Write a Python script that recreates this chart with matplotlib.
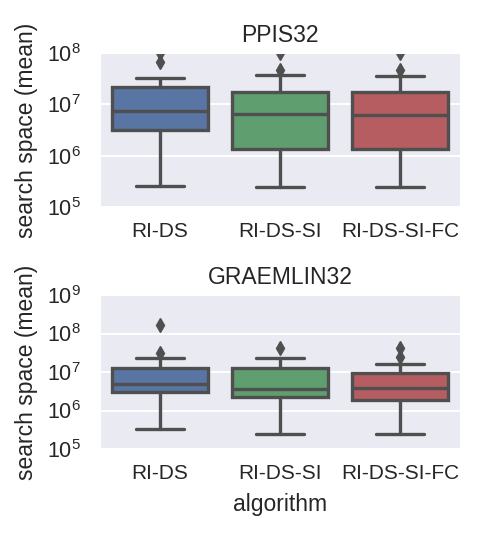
import matplotlib
matplotlib.use("Agg")
import matplotlib.pyplot as plt
from matplotlib.ticker import LogLocator, NullLocator
import seaborn as sns

sns.set_style("darkgrid")
plt.rcParams['font.family'] = ['Liberation Sans', 'DejaVu Sans']
plt.rcParams['mathtext.fontset'] = 'custom'
plt.rcParams['mathtext.rm'] = 'Liberation Sans'
plt.rcParams['mathtext.it'] = 'Liberation Sans:italic'
plt.rcParams['mathtext.bf'] = 'Liberation Sans:bold'

algorithms = ["RI-DS", "RI-DS-SI", "RI-DS-SI-FC"]
colors = ["#5875A4", "#5F9E6E", "#B55D60"]
gray = "#4f4f4f"

# PPIS32 box statistics
ppis_whislo = [2.6e5, 2.5e5, 2.5e5]
ppis_q1 = [3.1e6, 1.35e6, 1.35e6]
ppis_med = [7.5e6, 6.4e6, 6.3e6]
ppis_q3 = [2.2e7, 1.75e7, 1.75e7]
ppis_whishi = [3.25e7, 3.7e7, 3.6e7]
ppis_fliers = [[1.0e8, 6.7e7], [1.0e8, 4.6e7], [1.0e8, 4.6e7]]

# GRAEMLIN32 box statistics
gram_whislo = [3.4e5, 2.45e5, 2.45e5]
gram_q1 = [3.1e6, 2.3e6, 1.87e6]
gram_med = [4.8e6, 3.6e6, 3.8e6]
gram_q3 = [1.29e7, 1.29e7, 9.2e6]
gram_whishi = [2.35e7, 2.35e7, 1.62e7]
gram_fliers = [[1.66e8, 3.2e7], [4.3e7], [4.3e7, 2.5e7]]


def make_stats(whislo, q1, med, q3, whishi, fliers):
    stats = []
    for i in range(len(algorithms)):
        stats.append(dict(whislo=whislo[i], q1=q1[i], med=med[i], q3=q3[i],
                          whishi=whishi[i], fliers=fliers[i], label=algorithms[i]))
    return stats


def draw(ax, stats, title, ylim):
    art = ax.bxp(stats, positions=range(len(stats)), widths=0.8, patch_artist=True,
                 boxprops=dict(edgecolor=gray, linewidth=2.4),
                 medianprops=dict(color=gray, linewidth=2.4),
                 whiskerprops=dict(color=gray, linewidth=2.4),
                 capprops=dict(color=gray, linewidth=2.4),
                 flierprops=dict(marker='d', markerfacecolor=gray, markeredgecolor=gray,
                                 markersize=7.5, linestyle='none'))
    for box, c in zip(art['boxes'], colors):
        box.set_facecolor(c)
    for fl in art['fliers']:
        fl.set_clip_on(True)
    ax.set_yscale('log')
    ax.set_ylim(*ylim)
    ax.set_xlim(-0.5, 2.5)
    ax.yaxis.set_major_locator(LogLocator(base=10, numticks=20))
    ax.yaxis.set_minor_locator(NullLocator())
    ax.xaxis.grid(False)
    ax.yaxis.grid(True, which='major', color='white', linewidth=1.4)
    ax.tick_params(axis='y', which='major', labelsize=15.5, length=0, pad=14)
    ax.tick_params(axis='x', which='major', labelsize=15, length=0, pad=11)
    ax.set_title(title, fontsize=16.5, pad=8)
    ax.set_ylabel("search space (mean)", fontsize=16.5, labelpad=6)


fig = plt.figure(figsize=(4.86, 5.4), dpi=100)
ax1 = fig.add_axes([0.2058, 0.6167, 0.7407, 0.2852])
ax2 = fig.add_axes([0.2058, 0.1685, 0.7407, 0.2852])

draw(ax1, make_stats(ppis_whislo, ppis_q1, ppis_med, ppis_q3, ppis_whishi, ppis_fliers),
     "PPIS32", (1e5, 1e8))
draw(ax2, make_stats(gram_whislo, gram_q1, gram_med, gram_q3, gram_whishi, gram_fliers),
     "GRAEMLIN32", (1e5, 1e9))
ax2.set_xlabel("algorithm", fontsize=16.5, labelpad=7)

fig.savefig("out.png", dpi=100)
